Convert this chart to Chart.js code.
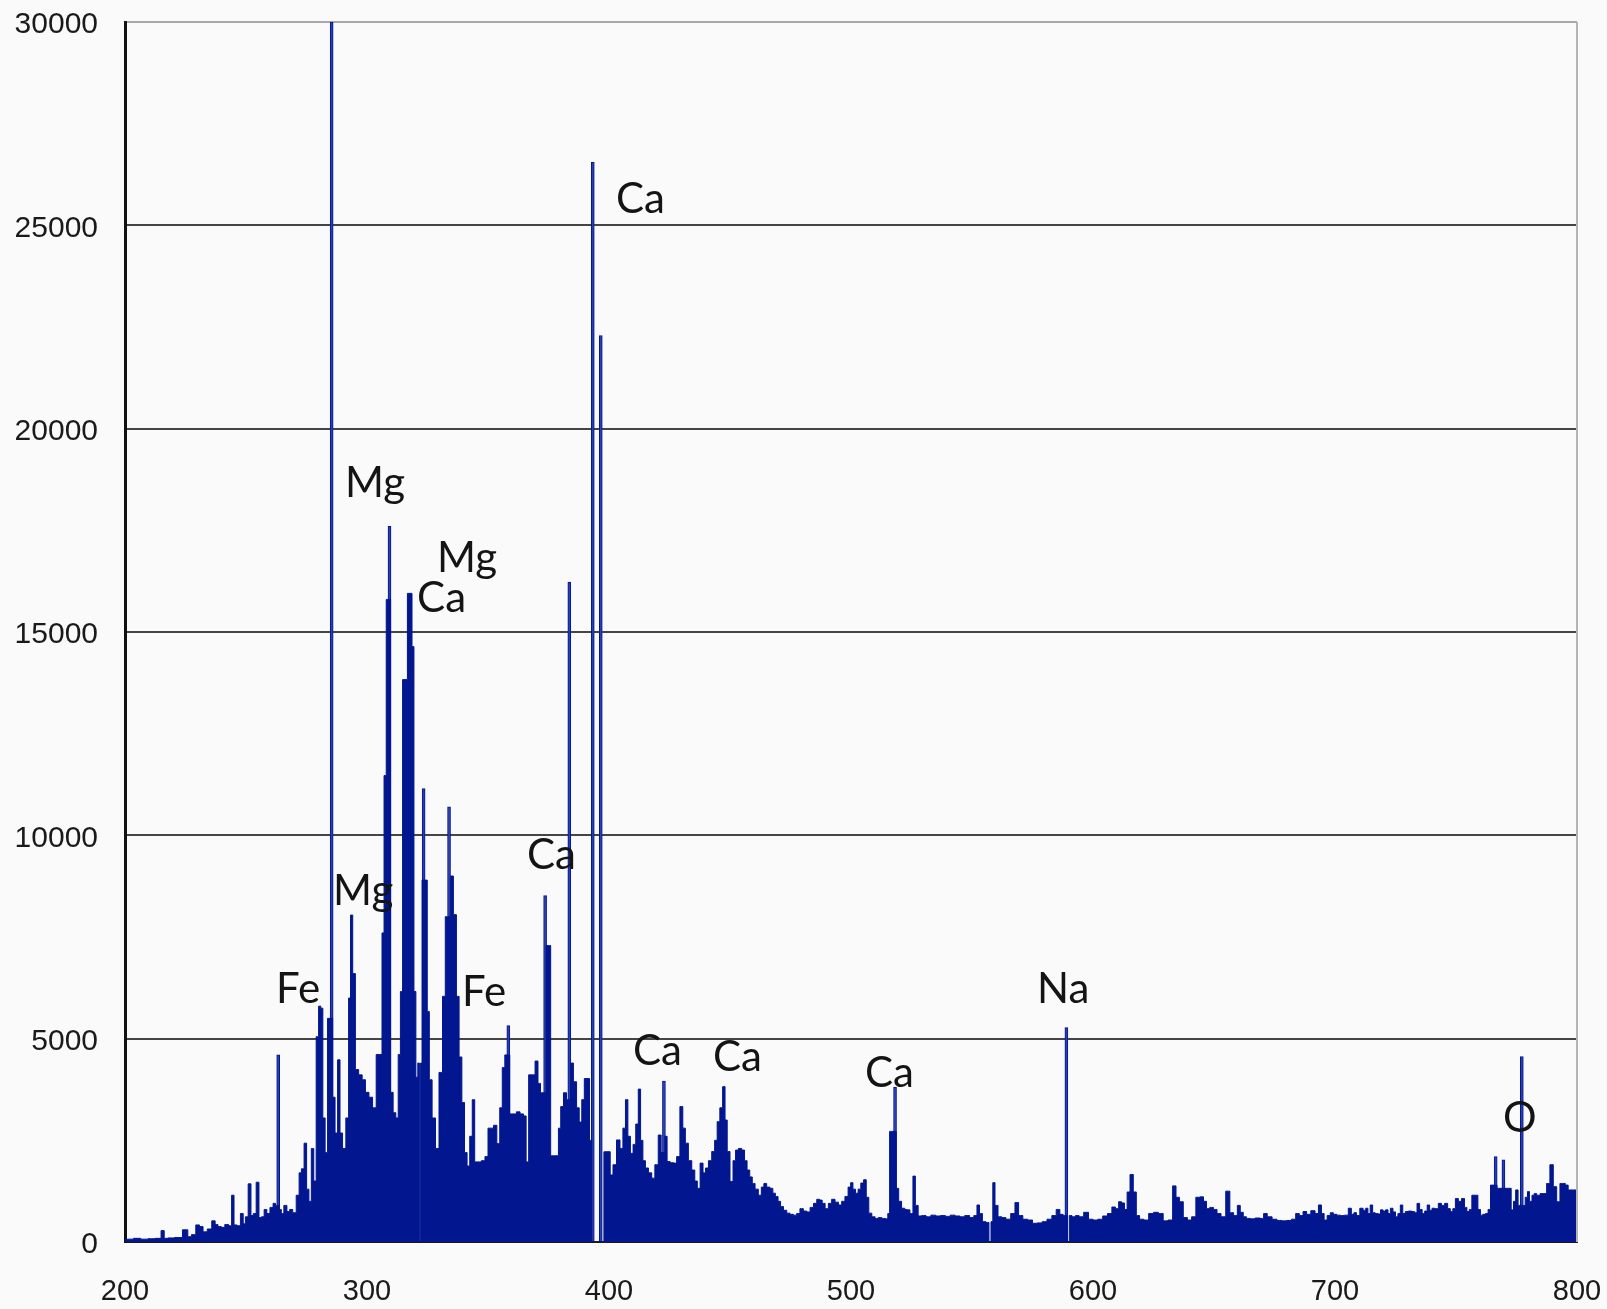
<!DOCTYPE html>
<html>
<head>
<meta charset="utf-8">
<title>Emission spectrum</title>
<script src="https://cdn.jsdelivr.net/npm/chart.js@4.4.1/dist/chart.umd.min.js"></script>
<style>
  html, body { margin: 0; padding: 0; background: #fafafa; }
  #wrap { width: 1607px; height: 1309px; }
</style>
</head>
<body>
<div id="wrap"><canvas id="spectrum" width="1607" height="1309"></canvas></div>
<script>
// Broadband emission background: wavelength (nm) and intensity (counts)
const wavelengthNm = [
  200, 202, 205, 208, 211, 214, 215.8, 216.6, 219, 222, 225.5, 226.4, 228.5, 230, 231.5, 233, 235, 236.7, 237.8, 239,
  240.5, 242, 243.5, 244.6, 245.5, 247, 248.4, 249.3, 250.2, 251.6, 252.5, 253.5, 254.9, 255.8, 257, 258, 259.2, 260.6, 261.8, 262.6,
  263.3, 264.2, 265, 266.3, 267.5, 268.6, 270, 271.5, 272.4, 273.4, 274.6, 275.5, 276.5, 277.5, 278.5, 279.5, 280.5, 281.3, 282.2, 283.2,
  284.2, 285.3, 286.3, 287.3, 288.4, 289.3, 290.5, 292, 292.8, 293.6, 294.6, 295.8, 297.3, 298.7, 300, 301.6, 303, 304.6, 305.8, 306.6,
  307.5, 308.4, 309.3, 310.2, 311.4, 312.4, 313.4, 314.2, 315.2, 316.2, 317.2, 318.2, 319, 319.8, 320.6, 321.4, 321.9, 322.4, 323.1, 323.8,
  324.5, 325.3, 326.2, 327.6, 329, 330.5, 331.9, 332.8, 333.9, 335, 336.4, 337.5, 338.6, 339.8, 340.8, 341.9, 343, 344, 345, 346.5,
  348, 349.5, 350.5, 351.6, 353, 354.3, 355.4, 356.4, 357.5, 358.4, 359.6, 361, 362.5, 364, 365.3, 366.2, 367.4, 368.8, 370.1, 371.2,
  372.2, 373.6, 374.4, 375.4, 376.4, 377.6, 378.6, 379.6, 380.5, 381.9, 383, 383.6, 384.6, 386, 387.2, 388.2, 389.3, 390.3, 391.5, 392.4,
  393.3, 395, 396.6, 397.6, 398.2, 400, 401, 402.3, 403.9, 405.2, 406.3, 407.3, 408.3, 409.4, 410.5, 411.6, 412.6, 413.5, 414.5, 415.6,
  417, 418.3, 419.6, 421.1, 422, 422.7, 423.5, 424.5, 426, 427.3, 428.6, 430, 431, 432.1, 433.5, 434.9, 436, 437, 438.3, 439.4,
  440.4, 441.8, 443.1, 444.2, 445.2, 446.4, 447.5, 448.4, 449.3, 450.7, 451.8, 452.8, 454.2, 455.5, 456.5, 457.6, 458.7, 459.7, 461, 462.4,
  463.5, 464.5, 465.8, 467.2, 468.2, 469.3, 470.4, 471.4, 472.8, 474.1, 475.5, 476.9, 478.2, 479.6, 481, 482.4, 483.8, 485.2, 486.5, 487.6,
  488.6, 490, 491.3, 492.7, 494.1, 495.5, 496.8, 498.2, 499.4, 500.3, 501.3, 502.4, 503.5, 504.6, 505.8, 506.8, 507.9, 509.3, 510.6, 512,
  513.4, 514.8, 515.6, 516.3, 517.3, 518.2, 519.2, 520.2, 521.6, 522.8, 523.7, 525, 526.2, 527, 528.5, 530, 532, 534, 536, 538,
  540, 542, 544, 546, 548, 550, 551.5, 552.6, 553.6, 555, 556.5, 557.5, 558.2, 559, 560, 561.5, 563, 565, 567, 568.5,
  570, 572, 574, 576, 578, 580, 582, 584, 585.6, 587, 588.3, 589, 589.8, 590.6, 592, 593.5, 595, 597.3, 599, 601,
  603, 605, 607, 608.6, 610, 611.2, 612.4, 613.6, 614.6, 616, 617.3, 618.5, 620, 622, 624, 626, 628, 630, 632, 633.8,
  634.8, 636.6, 638, 640, 641.5, 643.5, 645, 646.3, 647.5, 649, 650.5, 652, 653.8, 655.9, 657.2, 659, 660.3, 661.4, 662.8, 664,
  666, 668, 670, 671, 673, 675, 677, 679, 681, 683, 684.5, 686, 687.6, 689, 691, 692.5, 693.8, 695, 696, 697.5,
  698.6, 700, 701.5, 703, 704.8, 706.2, 707.3, 708.3, 709.5, 711, 712.2, 713.2, 714, 715.1, 716, 717.2, 718.3, 719.3, 720.4, 721.4,
  722.4, 723.4, 724.5, 725.5, 726.5, 727.5, 728.5, 729.6, 731, 732.4, 733.4, 734.4, 735.5, 736.5, 737.6, 738.6, 739.6, 740.6, 742, 743.4,
  744.6, 746, 747.1, 748.2, 749.2, 750.3, 751.6, 753, 754, 755, 756, 757.1, 758.5, 759.6, 760.6, 761.6, 762.7, 763.8, 764.7, 765.5,
  766.4, 767.5, 768.9, 769.6, 770.9, 772.3, 773.3, 774.2, 775.1, 776.2, 777.2, 778, 779.2, 779.9, 780.8, 782, 782.6, 784, 785.5, 786.8,
  788.1, 789.5, 790.9, 792.3, 793.6, 794.6, 795.7, 797, 798.5, 800
];
const continuumCounts = [
  60, 70, 90, 70, 80, 90, 280, 90, 100, 110, 300, 130, 180, 420, 380, 250, 320, 520, 430, 380,
  360, 430, 400, 1150, 420, 400, 700, 450, 620, 1430, 650, 700, 1470, 600, 620, 800, 700, 850, 950, 900,
  900, 800, 700, 900, 750, 800, 720, 1150, 1700, 1800, 2430, 1300, 1000, 2300, 1500, 5050, 5800, 5750, 3050, 2200,
  5500, 5500, 3560, 2680, 4480, 2680, 2300, 3050, 6000, 8040, 6600, 4240, 4110, 3990, 3680, 3560, 3300, 4610, 4610, 7600,
  11470, 15800, 15800, 3680, 3180, 3050, 4610, 6160, 13830, 13830, 15950, 15950, 14640, 6160, 4050, 4400, 0, 4400, 8900, 8900,
  8900, 5670, 3990, 3050, 2300, 4170, 6040, 8000, 8000, 9000, 8050, 6040, 4550, 3430, 2200, 1870, 2600, 3500, 1970, 1970,
  2000, 2100, 2800, 2800, 2870, 2420, 3300, 4290, 4600, 4600, 3150, 3150, 3200, 3150, 3100, 1970, 4110, 4110, 4450, 3900,
  3670, 3670, 7290, 7290, 2120, 2120, 2120, 2800, 3330, 3670, 3500, 3500, 4400, 3940, 3300, 2950, 3500, 4020, 4020, 2500,
  0, 0, 0, 0, 2220, 2220, 1650, 1900, 2510, 2300, 2800, 3500, 2600, 2180, 2400, 2900, 3760, 2500, 2000, 1820,
  1700, 1570, 1900, 2630, 2200, 2200, 2600, 1980, 1950, 1940, 2100, 3330, 2800, 2430, 2000, 1770, 1500, 1320, 1940, 1700,
  1820, 2000, 2225, 2500, 2960, 3300, 3820, 3000, 2225, 1490, 2000, 2260, 2300, 2260, 2000, 1770, 1600, 1440, 1300, 1150,
  1350, 1440, 1350, 1320, 1200, 1120, 1000, 870, 780, 710, 680, 660, 700, 820, 760, 740, 850, 950, 1050, 1030,
  950, 820, 950, 1050, 980, 910, 1000, 1120, 1350, 1460, 1300, 1200, 1300, 1450, 1530, 1100, 710, 620, 580, 600,
  580, 570, 700, 2720, 2720, 2720, 1320, 1000, 830, 800, 790, 700, 1620, 900, 640, 650, 620, 660, 640, 650,
  630, 660, 640, 620, 650, 600, 650, 910, 700, 500, 480, 0, 500, 1460, 900, 620, 600, 560, 700, 970,
  650, 560, 540, 460, 470, 500, 560, 650, 800, 680, 650, 650, 0, 650, 620, 650, 620, 730, 560, 540,
  560, 640, 700, 860, 820, 990, 960, 800, 1230, 1660, 1230, 650, 560, 540, 700, 730, 700, 520, 540, 1380,
  1100, 990, 600, 540, 620, 1100, 1110, 1000, 820, 850, 800, 700, 620, 1250, 720, 650, 900, 730, 620, 580,
  570, 590, 580, 700, 620, 560, 530, 520, 530, 560, 700, 650, 750, 680, 770, 700, 910, 700, 540, 650,
  720, 680, 660, 650, 660, 830, 680, 720, 650, 830, 780, 830, 700, 910, 720, 700, 690, 790, 760, 790,
  700, 830, 740, 620, 700, 910, 700, 750, 760, 750, 720, 950, 800, 700, 760, 910, 780, 830, 820, 950,
  900, 950, 820, 750, 820, 1070, 1000, 1070, 850, 750, 800, 1150, 1150, 800, 660, 680, 700, 800, 1400, 1400,
  1400, 1320, 1320, 1320, 1320, 1320, 790, 1000, 1280, 900, 900, 900, 1100, 1240, 1000, 1150, 1190, 1150, 1190, 1190,
  1440, 1900, 1360, 990, 1440, 1440, 1400, 1280, 1280, 1280
];

// Sharp atomic emission lines: wavelength (nm) and peak intensity (counts)
const lineNm = [263.3, 285.4, 309.3, 323.4, 333.9, 358.4, 373.6, 383.6, 393.3, 396.6, 422.7, 518.2, 589.0, 766.4, 769.6, 777.2];
const lineCounts = [4600, 30000, 17600, 11150, 10700, 5320, 8520, 16230, 26550, 22290, 3960, 3810, 5270, 2100, 2020, 4560];

// Element annotations: text, left edge (nm) and baseline (counts)
const labelText = ['Ca', 'Mg', 'Mg', 'Ca', 'Ca', 'Mg', 'Fe', 'Fe', 'Ca', 'Ca', 'Ca', 'Na', 'O'];
const labelNm = [402.9, 290.9, 328.9, 320.7, 366.1, 286.0, 262.4, 339.3, 409.9, 443.0, 505.8, 576.9, 769.4];
const labelCounts = [25300, 18325, 16477, 15490, 9162, 8288, 5887, 5813, 4360, 4212, 3818, 5887, 2709];

// Axis ticks
const xTickValues = [200, 300, 400, 500, 600, 700, 800];
const yTickValues = [0, 5000, 10000, 15000, 20000, 25000, 30000];

const NAVY = '#02178f';

const plotFrame = {
  id: 'plotFrame',
  afterDatasetsDraw(chart) {
    const { ctx, chartArea } = chart;
    ctx.save();
    ctx.strokeStyle = '#b4b4b4';
    ctx.lineWidth = 2;
    ctx.beginPath();
    ctx.moveTo(chartArea.right, chartArea.top);
    ctx.lineTo(chartArea.right, chartArea.bottom);
    ctx.stroke();
    ctx.restore();
  }
};

const elementLabels = {
  id: 'elementLabels',
  afterDraw(chart) {
    const { ctx } = chart;
    const xs = chart.scales.x, ys = chart.scales.y;
    ctx.save();
    ctx.font = '42px Lato';
    ctx.fillStyle = '#141414';
    ctx.textAlign = 'left';
    ctx.textBaseline = 'alphabetic';
    labelText.forEach((t, i) => {
      ctx.fillText(t, xs.getPixelForValue(labelNm[i]), ys.getPixelForValue(labelCounts[i]));
    });
    ctx.restore();
  }
};

new Chart(document.getElementById('spectrum'), {
  type: 'line',
  data: {
    datasets: [
      {
        type: 'bar',
        data: lineNm.map((x, i) => ({ x, y: lineCounts[i] })),
        backgroundColor: '#2a3fae',
        borderColor: NAVY,
        borderWidth: 1,
        borderSkipped: 'bottom',
        barThickness: 3,
        grouped: false,
        order: 2
      },
      {
        type: 'line',
        data: wavelengthNm.map((x, i) => ({ x, y: continuumCounts[i] })),
        stepped: 'middle',
        fill: 'origin',
        backgroundColor: NAVY,
        borderColor: NAVY,
        borderWidth: 1,
        pointRadius: 0,
        order: 1
      }
    ]
  },
  options: {
    responsive: false,
    animation: false,
    devicePixelRatio: 1,
    layout: { padding: { top: 22, right: 30, left: 0, bottom: 0 } },
    plugins: { legend: { display: false }, tooltip: { enabled: false } },
    scales: {
      x: {
        type: 'linear',
        min: 200,
        max: 800,
        offset: false,
        afterBuildTicks: s => { s.ticks = xTickValues.map(v => ({ value: v })); },
        afterFit: s => { s.height = 67; s.paddingLeft = 0; s.paddingRight = 0; },
        ticks: {
          callback: v => String(v),
          font: { family: 'Liberation Sans', size: 29 },
          color: '#1a1a1a',
          padding: 33,
          maxRotation: 0
        },
        grid: { display: false, drawTicks: false, offset: false },
        border: { display: true, color: '#1a1a1a', width: 2 }
      },
      y: {
        type: 'linear',
        min: 0,
        max: 30000,
        afterBuildTicks: s => { s.ticks = yTickValues.map(v => ({ value: v })); },
        afterFit: s => { s.width = 125; s.paddingTop = 0; s.paddingBottom = 0; },
        ticks: {
          callback: v => String(v),
          font: { family: 'Liberation Sans', size: 30 },
          color: '#1a1a1a',
          padding: 27,
          labelOffset: 3
        },
        grid: {
          color: c => (c.tick && c.tick.value === 30000 ? '#a8a8a8' : '#454545'),
          lineWidth: 2,
          drawTicks: false
        },
        border: { display: true, color: '#111', width: 3 }
      }
    }
  },
  plugins: [plotFrame, elementLabels]
});
</script>
</body>
</html>
